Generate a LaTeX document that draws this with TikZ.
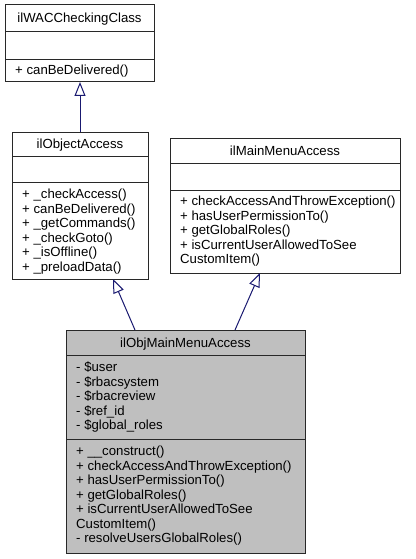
\documentclass[tikz,border=0pt]{standalone}
\usepackage{fontspec}
\setmainfont{Liberation Sans}
\usetikzlibrary{arrows.meta,calc}
\definecolor{edgeblue}{RGB}{25,25,112}
\definecolor{boxgray}{RGB}{191,191,191}
\definecolor{boxline}{RGB}{40,40,40}
\begin{document}
\begin{tikzpicture}[x=1pt,y=-1pt,
  box/.style={draw=boxline, line width=1pt, inner sep=0pt, outer sep=0pt, anchor=north west},
  sep/.style={draw=boxline, line width=1pt},
  txt/.style={font=\fontsize{13.2}{14.5}\selectfont, inner sep=0pt, anchor=base west},
  ttl/.style={font=\fontsize{13.2}{14.5}\selectfont, inner sep=0pt, anchor=base},
  inh/.style={draw=edgeblue, line width=1pt, -{Triangle[open,length=14pt,width=11pt]}}]
\useasboundingbox (0,0) rectangle (415,559);
% box 1
\node[box, minimum width=149pt, minimum height=77pt] (b1) at (5,5) {};
\draw[sep] (5,32) -- (154,32);
\draw[sep] (5,60) -- (154,60);
\node[ttl] (t1) at (79.5,23) {ilWACCheckingClass};
\node[txt] (m1) at (15,74.5) {+ canBeDelivered()};
% box 2
\node[box, minimum width=136pt, minimum height=147pt] (b2) at (12,132) {};
\draw[sep] (12,156) -- (148,156);
\draw[sep] (12,182) -- (148,182);
\node[ttl] (t2) at (80,148.5) {ilObjectAccess};
\foreach \s [count=\i from 0] in {+ \_checkAccess(), + canBeDelivered(), + \_getCommands(), + \_checkGoto(), + \_isOffline(), + \_preloadData()}
  \node[txt] (m2-\i) at (22,198.5+14.5*\i) {\s};
% box 3
\node[box, minimum width=230pt, minimum height=135pt] (b3) at (170,138) {};
\draw[sep] (170,163) -- (400,163);
\draw[sep] (170,190) -- (400,190);
\node[ttl] (t3) at (285,155) {ilMainMenuAccess};
\foreach \s [count=\i from 0] in {+ checkAccessAndThrowException(), + hasUserPermissionTo(), + getGlobalRoles(), + isCurrentUserAllowedToSee, CustomItem()}
  \node[txt] (m3-\i) at (180,205.5+14.5*\i) {\s};
% box 4
\node[box, fill=boxgray, minimum width=239pt, minimum height=223pt] (b4) at (66,330) {};
\draw[sep] (66,355) -- (305,355);
\draw[sep] (66,439) -- (305,439);
\node[ttl] (t4) at (185.5,347) {ilObjMainMenuAccess};
\foreach \s [count=\i from 0] in {- \$user, - \$rbacsystem, - \$rbacreview, - \$ref\_id, - \$global\_roles}
  \node[txt] (a4-\i) at (76,371.5+14.5*\i) {\s};
\foreach \s [count=\i from 0] in {+ \_\_construct(), + checkAccessAndThrowException(), + hasUserPermissionTo(), + getGlobalRoles(), + isCurrentUserAllowedToSee, CustomItem(), - resolveUsersGlobalRoles()}
  \node[txt] (m4-\i) at (76,455.5+14.5*\i) {\s};
% connectors
\draw[inh] ($(b2.north west)+(68,0)$) -- ($(b1.south west)+(75,0)$);
\draw[inh] ($(b4.north west)+(69,0)$) -- ($(b2.south west)+(101,0)$);
\draw[inh] ($(b4.north west)+(169,0)$) -- ($(b3.south west)+(90,0)$);
\end{tikzpicture}
\end{document}
